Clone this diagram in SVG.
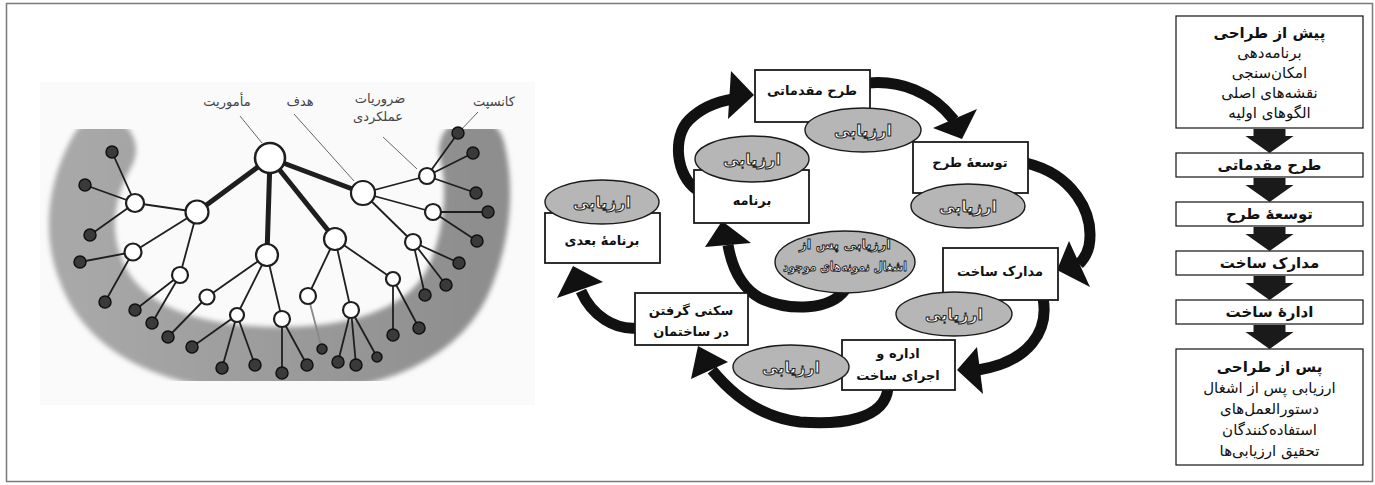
<svg xmlns="http://www.w3.org/2000/svg" width="1375" height="485" viewBox="0 0 1375 485">
<defs>
<style>
.box{fill:#fff;stroke:#1a1a1a;stroke-width:1.8}
.ell{fill:#b6b6b6;stroke:#1a1a1a;stroke-width:1.4}
.bt{font-family:"DejaVu Sans",sans-serif;font-weight:bold;font-size:13px;fill:#111;text-anchor:middle}
.et{font-family:"DejaVu Sans",sans-serif;font-weight:bold;font-size:16px;fill:#fff;stroke:#222;stroke-width:1;text-anchor:middle}
.et2{font-size:13px}
.shaft{fill:none;stroke:#111;stroke-width:11}
.head{fill:#111}
.edge{stroke:#1e1e1e;stroke-width:1.8}
.thick{stroke:#1e1e1e;stroke-width:5}
.wn{fill:#fff;stroke:#1e1e1e;stroke-width:2.2}
.dn{fill:#3a3a3a;stroke:#111;stroke-width:1.5}
.lead{stroke:#666;stroke-width:1}
.lbl{font-family:"DejaVu Sans",sans-serif;font-size:13px;fill:#444;text-anchor:middle}
.ct{font-family:"DejaVu Sans",sans-serif;font-size:15px;fill:#111;text-anchor:middle}
.cth{font-weight:bold}
.cbox{fill:#fff;stroke:#111;stroke-width:1.2}
.carr{fill:#1a1a1a}
</style>
<linearGradient id="bandg" x1="0" x2="1" y1="0" y2="0">
<stop offset="0" stop-color="#a8a8a8"/><stop offset="1" stop-color="#8e8e8e"/>
</linearGradient>
<filter id="soft" x="-10%" y="-10%" width="120%" height="120%"><feGaussianBlur stdDeviation="2.5"/></filter>
<clipPath id="photo"><rect x="40" y="82" width="495" height="323"/></clipPath>
<path id="carrow" d="M -16 0 H 16 V 7 H 24 L 0 24 L -24 7 H -16 Z"/>
</defs>

<rect x="0" y="0" width="1375" height="485" fill="#fff"/>
<rect x="6.5" y="3.5" width="1366" height="478" fill="none" stroke="#7a7a7a" stroke-width="1.5"/>

<!-- LEFT: tree picture -->
<g id="tree-picture" clip-path="url(#photo)">
<rect x="40" y="82" width="495" height="323" fill="#fafafa"/>
<path id="band" d="M 103 150 C 80 190, 76 232, 90 268 C 115 340, 200 360, 283 360 C 370 360, 440 332, 462 272 C 480 225, 480 182, 472 150" fill="none" stroke="url(#bandg)" stroke-width="66" stroke-linecap="round" filter="url(#soft)"/>
</g>

<g id="connectors">
<g id="tree-edges">
<line class="thick" x1="270" y1="158" x2="197" y2="212"/>
<line class="thick" x1="270" y1="158" x2="267" y2="255"/>
<line class="thick" x1="270" y1="158" x2="335" y2="239"/>
<line class="thick" x1="270" y1="158" x2="363" y2="193"/>
<line class="edge" x1="197" y1="212" x2="135" y2="203"/>
<line class="edge" x1="197" y1="212" x2="133" y2="252"/>
<line class="edge" x1="197" y1="212" x2="180" y2="275"/>
<line class="edge" x1="135" y1="203" x2="112" y2="152"/>
<line class="edge" x1="135" y1="203" x2="85" y2="185"/>
<line class="edge" x1="135" y1="203" x2="90" y2="235"/>
<line class="edge" x1="133" y1="252" x2="80" y2="262"/>
<line class="edge" x1="133" y1="252" x2="105" y2="302"/>
<line class="edge" x1="180" y1="275" x2="135" y2="310"/>
<line class="edge" x1="180" y1="275" x2="152" y2="323"/>
<line class="edge" x1="267" y1="255" x2="207" y2="297"/>
<line class="edge" x1="267" y1="255" x2="237" y2="315"/>
<line class="edge" x1="267" y1="255" x2="282" y2="319"/>
<line class="edge" x1="207" y1="297" x2="168" y2="337"/>
<line class="edge" x1="237" y1="315" x2="192" y2="347"/>
<line class="edge" x1="237" y1="315" x2="222" y2="368"/>
<line class="edge" x1="237" y1="315" x2="255" y2="365"/>
<line class="edge" x1="282" y1="319" x2="282" y2="373"/>
<line class="edge" x1="282" y1="319" x2="307" y2="365"/>
<line class="edge" x1="335" y1="239" x2="308" y2="296"/>
<line class="edge" x1="335" y1="239" x2="351" y2="310"/>
<line class="edge" x1="335" y1="239" x2="393" y2="279"/>
<line class="edge" x1="308" y1="296" x2="322" y2="349" style="stroke:#888"/>
<line class="edge" x1="351" y1="310" x2="338" y2="362"/>
<line class="edge" x1="351" y1="310" x2="356" y2="365"/>
<line class="edge" x1="351" y1="310" x2="377" y2="357"/>
<line class="edge" x1="393" y1="279" x2="393" y2="335"/>
<line class="edge" x1="393" y1="279" x2="419" y2="328"/>
<line class="edge" x1="363" y1="193" x2="427" y2="176"/>
<line class="edge" x1="363" y1="193" x2="433" y2="212"/>
<line class="edge" x1="363" y1="193" x2="413" y2="242"/>
<line class="edge" x1="427" y1="176" x2="458" y2="133"/>
<line class="edge" x1="427" y1="176" x2="473" y2="153"/>
<line class="edge" x1="427" y1="176" x2="476" y2="193"/>
<line class="edge" x1="433" y1="212" x2="488" y2="212"/>
<line class="edge" x1="433" y1="212" x2="477" y2="241"/>
<line class="edge" x1="413" y1="242" x2="459" y2="263"/>
<line class="edge" x1="413" y1="242" x2="446" y2="285"/>
<line class="edge" x1="413" y1="242" x2="425" y2="295"/>
</g>
<g id="leaders">
<line class="lead" x1="240" y1="116" x2="262" y2="143"/>
<line class="lead" x1="294" y1="114" x2="354" y2="181"/>
<line class="lead" x1="383" y1="137" x2="417" y2="169"/>
<line class="lead" x1="478" y1="112" x2="458" y2="133"/>
</g>
<g id="cycle-arrows">
<path class="shaft" d="M 697 190 C 676 176, 672 137, 689 120 C 700 109, 715 102, 733 99"/>
<polygon class="head" points="731,71 754,95 728,119"/>
<path class="shaft" d="M 868 83 C 900 80, 932 92, 954 120"/>
<polygon class="head" points="933,128 977,109 962,139"/>
<path class="shaft" d="M 1026 163 C 1072 174, 1095 212, 1089 246 C 1087 255, 1083 260, 1079 264"/>
<polygon class="head" points="1069,241 1090,287 1057,270"/>
<path class="shaft" d="M 1043 298 C 1049 330, 1030 362, 978 370"/>
<polygon class="head" points="977,347 983,394 957,370"/>
<path class="shaft" d="M 888 388 C 885 420, 840 425, 800 422 C 765 418, 735 398, 712 370"/>
<polygon class="head" points="691,379 698,346 728,362"/>
<path class="shaft" d="M 637 328 C 615 330, 592 316, 581 291"/>
<polygon class="head" points="557,298 573,266 603,282"/>
<path class="shaft" d="M 845 290 C 830 310, 790 312, 760 298 C 742 288, 732 268, 728 245"/>
<polygon class="head" points="705,247 722,221 751,243"/>
</g>
<g id="column-arrows" class="carr">
<use href="#carrow" x="1269.5" y="129"/>
<use href="#carrow" x="1269.5" y="178"/>
<use href="#carrow" x="1269.5" y="227"/>
<use href="#carrow" x="1269.5" y="276"/>
<use href="#carrow" x="1269.5" y="325"/>
</g>
</g>

<g id="tree-nodes">
<g id="t-dots">
<circle class="dn" cx="112" cy="152" r="6"/><circle class="dn" cx="85" cy="185" r="6"/><circle class="dn" cx="90" cy="235" r="6"/>
<circle class="dn" cx="80" cy="262" r="6"/><circle class="dn" cx="105" cy="302" r="6"/>
<circle class="dn" cx="135" cy="310" r="6"/><circle class="dn" cx="152" cy="323" r="6"/><circle class="dn" cx="168" cy="337" r="6"/>
<circle class="dn" cx="192" cy="347" r="6"/><circle class="dn" cx="222" cy="368" r="6"/><circle class="dn" cx="255" cy="365" r="6"/>
<circle class="dn" cx="282" cy="373" r="6"/><circle class="dn" cx="307" cy="365" r="6"/><circle class="dn" cx="322" cy="349" r="5"/>
<circle class="dn" cx="338" cy="362" r="6"/><circle class="dn" cx="356" cy="365" r="6"/><circle class="dn" cx="377" cy="357" r="5"/>
<circle class="dn" cx="393" cy="335" r="6"/><circle class="dn" cx="419" cy="328" r="6"/>
<circle class="dn" cx="425" cy="295" r="6"/><circle class="dn" cx="446" cy="285" r="6"/><circle class="dn" cx="459" cy="263" r="6"/>
<circle class="dn" cx="477" cy="241" r="6"/><circle class="dn" cx="488" cy="212" r="6"/><circle class="dn" cx="476" cy="193" r="6"/>
<circle class="dn" cx="473" cy="153" r="6"/><circle class="dn" cx="458" cy="133" r="6"/>
</g>
<circle id="t-root" class="wn" cx="270" cy="158" r="15" style="stroke-width:2.6"/>
<circle id="t-a" class="wn" cx="197" cy="212" r="11.5"/>
<circle id="t-b" class="wn" cx="267" cy="255" r="11"/>
<circle id="t-c" class="wn" cx="335" cy="239" r="11"/>
<circle id="t-d" class="wn" cx="363" cy="193" r="12"/>
<circle class="wn" cx="135" cy="203" r="9"/>
<circle class="wn" cx="133" cy="252" r="8.5"/>
<circle class="wn" cx="180" cy="275" r="8"/>
<circle class="wn" cx="207" cy="297" r="7.5"/>
<circle class="wn" cx="237" cy="315" r="7"/>
<circle class="wn" cx="282" cy="319" r="8"/>
<circle class="wn" cx="308" cy="296" r="8"/>
<circle class="wn" cx="351" cy="310" r="8"/>
<circle class="wn" cx="393" cy="279" r="7"/>
<circle class="wn" cx="427" cy="176" r="8"/>
<circle class="wn" cx="433" cy="212" r="8"/>
<circle class="wn" cx="413" cy="242" r="8"/>
</g>
<g id="tree-labels">
<text class="lbl" x="227" y="106">مأموریت</text>
<text class="lbl" x="300" y="106">هدف</text>
<text class="lbl" x="380" y="103">ضروریات</text>
<text class="lbl" x="378" y="121">عملکردی</text>
<text class="lbl" x="494" y="106">کانسپت</text>
</g>

<g id="n-tarh">
<rect class="box" x="755" y="70" width="115" height="52"/>
<text class="bt" x="812" y="95">طرح مقدماتی</text>
<ellipse class="ell" cx="863" cy="130" rx="58" ry="22"/>
<text class="et" x="863" y="136">ارزیابی</text>
</g>
<g id="n-tose">
<rect class="box" x="913" y="142" width="115" height="51"/>
<text class="bt" x="970" y="167">توسعهٔ طرح</text>
<ellipse class="ell" cx="968" cy="206" rx="57" ry="22"/>
<text class="et" x="968" y="212">ارزیابی</text>
</g>
<g id="n-madarek">
<rect class="box" x="943" y="248" width="115" height="52"/>
<text class="bt" x="1000" y="276">مدارک ساخت</text>
<ellipse class="ell" cx="954" cy="314" rx="58" ry="22"/>
<text class="et" x="954" y="320">ارزیابی</text>
</g>
<g id="n-edare">
<rect class="box" x="842" y="340" width="113" height="50"/>
<text class="bt" x="898" y="358">اداره و</text>
<text class="bt" x="898" y="380">اجرای ساخت</text>
<ellipse class="ell" cx="791" cy="367" rx="58" ry="22"/>
<text class="et" x="791" y="373">ارزیابی</text>
</g>
<g id="n-sokna">
<rect class="box" x="635" y="293" width="113" height="52"/>
<text class="bt" x="691" y="315">سکنی گرفتن</text>
<text class="bt" x="691" y="336">در ساختمان</text>
</g>
<g id="n-barname">
<rect class="box" x="694" y="170" width="115" height="53"/>
<text class="bt" x="752" y="205">برنامه</text>
<ellipse class="ell" cx="752" cy="159" rx="57" ry="23"/>
<text class="et" x="752" y="165">ارزیابی</text>
</g>
<g id="n-baadi">
<rect class="box" x="545" y="213" width="115" height="50"/>
<text class="bt" x="602" y="245">برنامهٔ بعدی</text>
<ellipse class="ell" cx="602" cy="202" rx="57" ry="22"/>
<text class="et" x="602" y="208">ارزیابی</text>
</g>
<g id="n-poe">
<ellipse class="ell" cx="845" cy="262" rx="70" ry="31"/>
<text class="et et2" x="845" y="249">ارزیابی پس از</text>
<text class="et et2" x="845" y="271" textLength="124" lengthAdjust="spacingAndGlyphs">اشغال نمونه‌های موجود</text>
</g>

<g id="c-pre">
<rect class="cbox" x="1176" y="16" width="187" height="112"/>
<text class="ct cth" x="1269.5" y="38">پیش از طراحی</text>
<text class="ct" x="1269.5" y="58">برنامه‌دهی</text>
<text class="ct" x="1269.5" y="78">امکان‌سنجی</text>
<text class="ct" x="1269.5" y="98">نقشه‌های اصلی</text>
<text class="ct" x="1269.5" y="118">الگوهای اولیه</text>
</g>
<g id="c-tarh">
<rect class="cbox" x="1176" y="153" width="187" height="24"/>
<text class="ct cth" x="1269.5" y="170">طرح مقدماتی</text>
</g>
<g id="c-tose">
<rect class="cbox" x="1176" y="202" width="187" height="24"/>
<text class="ct cth" x="1269.5" y="219">توسعهٔ طرح</text>
</g>
<g id="c-madarek">
<rect class="cbox" x="1176" y="251" width="187" height="24"/>
<text class="ct cth" x="1269.5" y="268">مدارک ساخت</text>
</g>
<g id="c-edare">
<rect class="cbox" x="1176" y="300" width="187" height="24"/>
<text class="ct cth" x="1269.5" y="317">ادارهٔ ساخت</text>
</g>
<g id="c-post">
<rect class="cbox" x="1176" y="349" width="187" height="116"/>
<text class="ct cth" x="1269.5" y="372">پس از طراحی</text>
<text class="ct" x="1269.5" y="393">ارزیابی پس از اشغال</text>
<text class="ct" x="1269.5" y="414">دستورالعمل‌های</text>
<text class="ct" x="1269.5" y="435">استفاده‌کنندگان</text>
<text class="ct" x="1269.5" y="456">تحقیق ارزیابی‌ها</text>
</g>
</svg>
